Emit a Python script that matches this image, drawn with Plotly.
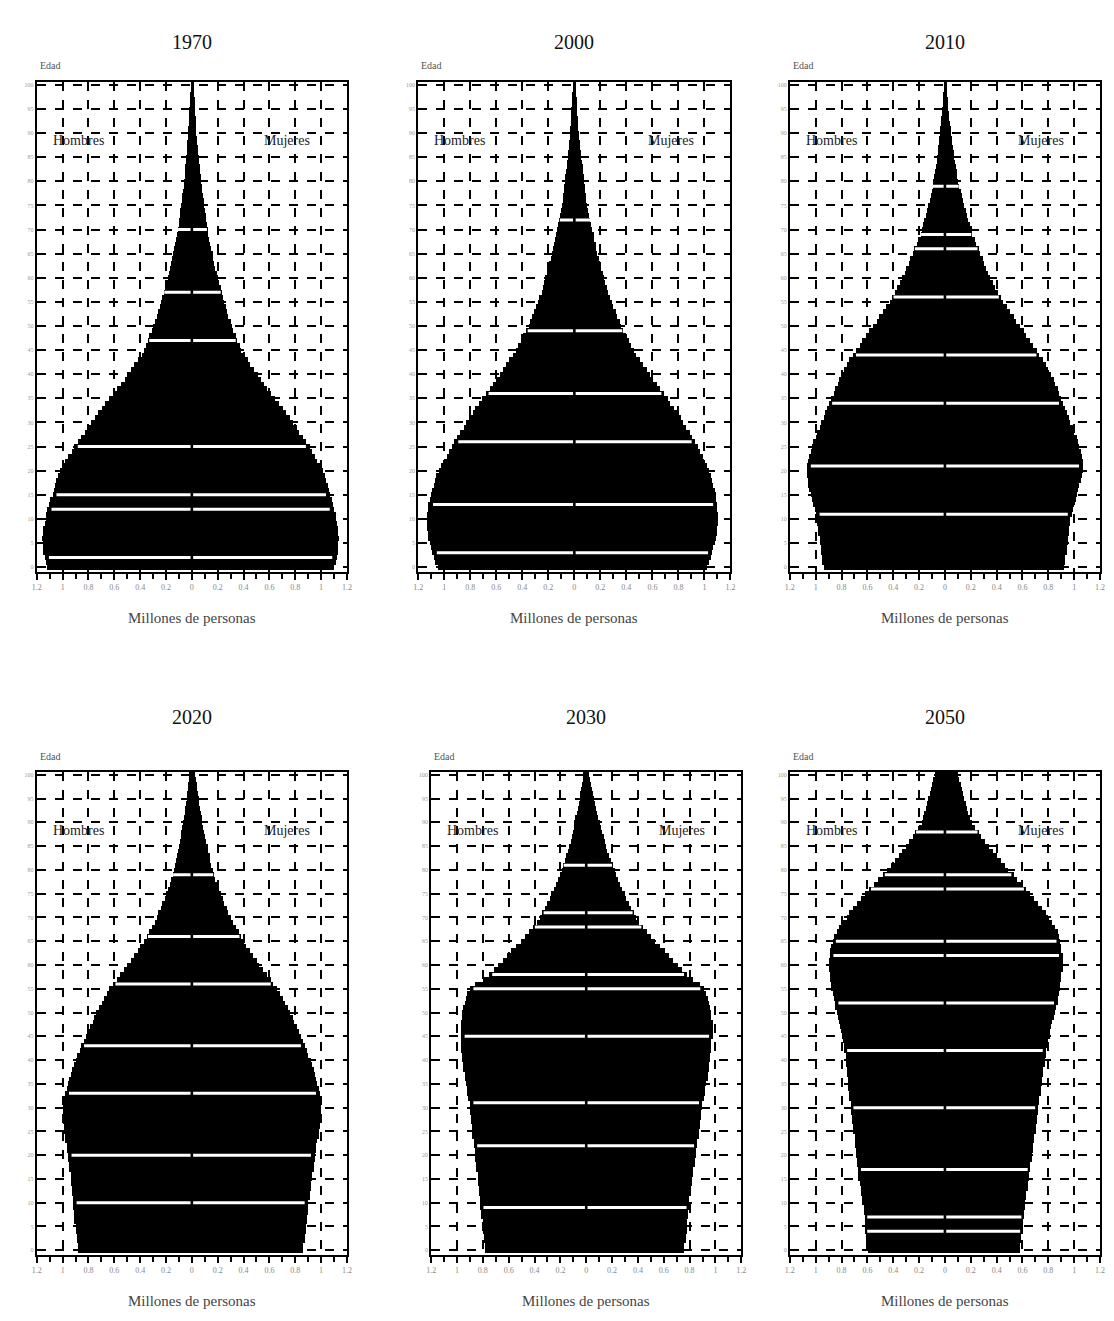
import plotly.graph_objects as go

W, H = 1114, 1321
OFF = 8  # body margin of the page
FW, FH = W - 2 * OFF, H - 2 * OFF

edades = list(range(0, 101))
anios = ["1970", "2000", "2010", "2020", "2030", "2050"]

hombres_1970 = [1.12, 1.13, 1.14, 1.15, 1.15, 1.15, 1.16, 1.15, 1.15, 1.14,
                1.13, 1.13, 1.12, 1.11, 1.10, 1.08, 1.07, 1.06, 1.05, 1.04,
                1.02, 1.00, 0.98, 0.96, 0.93, 0.91, 0.88, 0.86, 0.83, 0.81,
                0.78, 0.75, 0.73, 0.70, 0.67, 0.64, 0.61, 0.58, 0.55, 0.52,
                0.50, 0.47, 0.45, 0.42, 0.39, 0.37, 0.36, 0.34, 0.33, 0.31,
                0.30, 0.29, 0.27, 0.26, 0.25, 0.24, 0.23, 0.22, 0.21, 0.20,
                0.19, 0.18, 0.17, 0.165, 0.155, 0.15, 0.14, 0.13, 0.125, 0.115,
                0.11, 0.105, 0.10, 0.095, 0.09, 0.085, 0.08, 0.075, 0.07, 0.065,
                0.06, 0.057, 0.054, 0.051, 0.048, 0.045, 0.042, 0.039, 0.036, 0.033,
                0.03, 0.028, 0.026, 0.025, 0.023, 0.02, 0.018, 0.016, 0.014, 0.012,
                0.01]
mujeres_1970 = [1.10, 1.11, 1.12, 1.13, 1.13, 1.13, 1.14, 1.13, 1.13, 1.12,
                1.11, 1.11, 1.10, 1.09, 1.08, 1.07, 1.06, 1.05, 1.04, 1.03,
                1.01, 0.99, 0.97, 0.95, 0.93, 0.91, 0.88, 0.86, 0.83, 0.81,
                0.78, 0.76, 0.73, 0.70, 0.67, 0.64, 0.61, 0.58, 0.56, 0.53,
                0.51, 0.48, 0.45, 0.43, 0.40, 0.38, 0.37, 0.35, 0.34, 0.32,
                0.31, 0.30, 0.28, 0.27, 0.26, 0.25, 0.24, 0.23, 0.22, 0.21,
                0.20, 0.19, 0.18, 0.17, 0.165, 0.16, 0.15, 0.14, 0.13, 0.125,
                0.12, 0.115, 0.11, 0.105, 0.10, 0.095, 0.09, 0.085, 0.08, 0.075,
                0.07, 0.066, 0.062, 0.058, 0.054, 0.05, 0.047, 0.044, 0.04, 0.037,
                0.034, 0.031, 0.029, 0.027, 0.025, 0.023, 0.021, 0.019, 0.017, 0.015,
                0.012]

hombres_2000 = [1.05, 1.07, 1.08, 1.09, 1.10, 1.11, 1.12, 1.12, 1.13, 1.13,
                1.13, 1.13, 1.12, 1.12, 1.11, 1.10, 1.09, 1.08, 1.07, 1.06,
                1.04, 1.02, 1.00, 0.98, 0.96, 0.94, 0.92, 0.90, 0.88, 0.85,
                0.83, 0.81, 0.78, 0.76, 0.73, 0.71, 0.68, 0.65, 0.62, 0.60,
                0.57, 0.55, 0.52, 0.50, 0.47, 0.45, 0.43, 0.41, 0.39, 0.37,
                0.35, 0.34, 0.32, 0.31, 0.29, 0.28, 0.27, 0.25, 0.24, 0.23,
                0.22, 0.21, 0.20, 0.19, 0.18, 0.17, 0.16, 0.155, 0.145, 0.14,
                0.13, 0.12, 0.115, 0.105, 0.10, 0.09, 0.086, 0.082, 0.078, 0.074,
                0.07, 0.066, 0.062, 0.058, 0.054, 0.05, 0.046, 0.042, 0.038, 0.034,
                0.03, 0.028, 0.026, 0.024, 0.022, 0.02, 0.018, 0.016, 0.014, 0.012,
                0.01]
mujeres_2000 = [1.02, 1.04, 1.05, 1.06, 1.07, 1.08, 1.09, 1.10, 1.10, 1.11,
                1.11, 1.11, 1.10, 1.10, 1.09, 1.09, 1.08, 1.07, 1.06, 1.05,
                1.04, 1.02, 1.00, 0.99, 0.97, 0.95, 0.93, 0.91, 0.89, 0.86,
                0.84, 0.82, 0.79, 0.77, 0.74, 0.72, 0.69, 0.66, 0.64, 0.61,
                0.58, 0.56, 0.53, 0.51, 0.48, 0.46, 0.44, 0.42, 0.40, 0.38,
                0.36, 0.35, 0.33, 0.32, 0.30, 0.29, 0.28, 0.26, 0.25, 0.24,
                0.23, 0.22, 0.21, 0.20, 0.19, 0.18, 0.17, 0.165, 0.155, 0.15,
                0.14, 0.13, 0.125, 0.115, 0.11, 0.10, 0.095, 0.09, 0.086, 0.082,
                0.078, 0.074, 0.07, 0.065, 0.06, 0.056, 0.052, 0.048, 0.044, 0.04,
                0.036, 0.033, 0.03, 0.028, 0.026, 0.024, 0.021, 0.019, 0.017, 0.015,
                0.012]

hombres_2010 = [0.94, 0.95, 0.95, 0.96, 0.96, 0.97, 0.97, 0.98, 0.98, 0.99,
                0.99, 1.00, 1.01, 1.02, 1.03, 1.04, 1.05, 1.06, 1.06, 1.07,
                1.07, 1.07, 1.06, 1.05, 1.04, 1.03, 1.02, 1.00, 0.99, 0.97,
                0.96, 0.94, 0.93, 0.91, 0.90, 0.88, 0.86, 0.85, 0.83, 0.82,
                0.80, 0.78, 0.76, 0.74, 0.71, 0.69, 0.66, 0.64, 0.61, 0.59,
                0.56, 0.53, 0.51, 0.48, 0.46, 0.43, 0.41, 0.39, 0.37, 0.35,
                0.33, 0.31, 0.30, 0.28, 0.27, 0.25, 0.24, 0.22, 0.21, 0.19,
                0.18, 0.17, 0.16, 0.15, 0.14, 0.13, 0.12, 0.11, 0.105, 0.097,
                0.09, 0.084, 0.078, 0.072, 0.066, 0.06, 0.056, 0.052, 0.048, 0.044,
                0.04, 0.036, 0.032, 0.028, 0.024, 0.02, 0.018, 0.016, 0.014, 0.012,
                0.01]
mujeres_2010 = [0.92, 0.93, 0.93, 0.94, 0.94, 0.95, 0.95, 0.96, 0.96, 0.97,
                0.97, 0.98, 0.99, 1.00, 1.01, 1.02, 1.03, 1.04, 1.05, 1.06,
                1.07, 1.07, 1.07, 1.06, 1.05, 1.04, 1.03, 1.02, 1.00, 0.99,
                0.97, 0.96, 0.94, 0.93, 0.91, 0.90, 0.88, 0.87, 0.85, 0.84,
                0.82, 0.80, 0.78, 0.76, 0.73, 0.71, 0.68, 0.66, 0.63, 0.61,
                0.58, 0.55, 0.53, 0.50, 0.48, 0.45, 0.43, 0.41, 0.39, 0.37,
                0.35, 0.33, 0.32, 0.30, 0.29, 0.27, 0.26, 0.24, 0.23, 0.21,
                0.20, 0.19, 0.18, 0.17, 0.16, 0.15, 0.14, 0.13, 0.12, 0.11,
                0.10, 0.095, 0.09, 0.084, 0.078, 0.072, 0.066, 0.06, 0.056, 0.052,
                0.048, 0.043, 0.038, 0.033, 0.028, 0.024, 0.021, 0.019, 0.016, 0.014,
                0.012]

hombres_2020 = [0.88, 0.88, 0.89, 0.89, 0.90, 0.90, 0.91, 0.91, 0.91, 0.92,
                0.92, 0.92, 0.93, 0.93, 0.94, 0.94, 0.94, 0.95, 0.95, 0.96,
                0.96, 0.97, 0.97, 0.98, 0.98, 0.99, 0.99, 1.00, 1.00, 1.00,
                1.00, 0.99, 0.99, 0.98, 0.97, 0.96, 0.95, 0.94, 0.93, 0.91,
                0.90, 0.89, 0.87, 0.86, 0.84, 0.82, 0.81, 0.79, 0.77, 0.76,
                0.74, 0.72, 0.70, 0.68, 0.66, 0.64, 0.61, 0.58, 0.56, 0.53,
                0.50, 0.47, 0.45, 0.42, 0.40, 0.37, 0.35, 0.33, 0.31, 0.29,
                0.27, 0.26, 0.24, 0.23, 0.21, 0.20, 0.19, 0.17, 0.16, 0.15,
                0.14, 0.13, 0.125, 0.115, 0.11, 0.10, 0.095, 0.088, 0.082, 0.076,
                0.07, 0.064, 0.058, 0.052, 0.046, 0.04, 0.036, 0.032, 0.028, 0.024,
                0.02]
mujeres_2020 = [0.86, 0.86, 0.87, 0.87, 0.88, 0.88, 0.89, 0.89, 0.90, 0.90,
                0.90, 0.91, 0.91, 0.92, 0.92, 0.93, 0.93, 0.94, 0.94, 0.95,
                0.95, 0.96, 0.96, 0.97, 0.98, 0.98, 0.99, 0.99, 1.00, 1.00,
                1.00, 1.00, 0.99, 0.99, 0.98, 0.97, 0.96, 0.95, 0.94, 0.93,
                0.92, 0.90, 0.89, 0.87, 0.86, 0.84, 0.83, 0.81, 0.79, 0.78,
                0.76, 0.74, 0.72, 0.70, 0.68, 0.66, 0.63, 0.61, 0.58, 0.55,
                0.52, 0.50, 0.47, 0.45, 0.42, 0.40, 0.38, 0.36, 0.34, 0.32,
                0.30, 0.28, 0.27, 0.25, 0.24, 0.22, 0.21, 0.20, 0.18, 0.17,
                0.16, 0.15, 0.14, 0.135, 0.125, 0.12, 0.11, 0.10, 0.095, 0.088,
                0.08, 0.074, 0.068, 0.062, 0.056, 0.05, 0.045, 0.04, 0.035, 0.03,
                0.025]

hombres_2030 = [0.78, 0.78, 0.79, 0.79, 0.80, 0.80, 0.80, 0.81, 0.81, 0.82,
                0.82, 0.82, 0.83, 0.83, 0.84, 0.84, 0.84, 0.85, 0.85, 0.86,
                0.86, 0.86, 0.87, 0.87, 0.88, 0.88, 0.88, 0.89, 0.89, 0.90,
                0.90, 0.90, 0.91, 0.92, 0.92, 0.93, 0.94, 0.94, 0.95, 0.95,
                0.96, 0.96, 0.97, 0.97, 0.97, 0.97, 0.97, 0.97, 0.97, 0.96,
                0.96, 0.95, 0.94, 0.93, 0.92, 0.90, 0.86, 0.80, 0.75, 0.71,
                0.68, 0.64, 0.61, 0.58, 0.54, 0.50, 0.47, 0.44, 0.41, 0.38,
                0.36, 0.34, 0.32, 0.30, 0.28, 0.27, 0.25, 0.23, 0.22, 0.20,
                0.19, 0.18, 0.165, 0.155, 0.14, 0.13, 0.12, 0.11, 0.10, 0.095,
                0.09, 0.082, 0.074, 0.066, 0.058, 0.05, 0.044, 0.038, 0.032, 0.026,
                0.02]
mujeres_2030 = [0.76, 0.76, 0.77, 0.77, 0.78, 0.78, 0.78, 0.79, 0.79, 0.80,
                0.80, 0.80, 0.81, 0.81, 0.82, 0.82, 0.83, 0.83, 0.84, 0.84,
                0.85, 0.85, 0.86, 0.86, 0.87, 0.87, 0.88, 0.88, 0.89, 0.89,
                0.90, 0.90, 0.91, 0.92, 0.92, 0.93, 0.94, 0.94, 0.95, 0.95,
                0.96, 0.96, 0.97, 0.97, 0.97, 0.98, 0.98, 0.98, 0.98, 0.97,
                0.97, 0.96, 0.95, 0.94, 0.93, 0.91, 0.88, 0.83, 0.78, 0.74,
                0.71, 0.67, 0.64, 0.61, 0.57, 0.53, 0.50, 0.47, 0.44, 0.41,
                0.39, 0.37, 0.35, 0.33, 0.31, 0.30, 0.28, 0.26, 0.25, 0.23,
                0.22, 0.205, 0.19, 0.18, 0.165, 0.155, 0.145, 0.135, 0.125, 0.115,
                0.105, 0.096, 0.087, 0.078, 0.07, 0.062, 0.054, 0.046, 0.038, 0.032,
                0.026]

hombres_2050 = [0.60, 0.60, 0.61, 0.61, 0.62, 0.62, 0.62, 0.62, 0.63, 0.63,
                0.64, 0.64, 0.65, 0.65, 0.66, 0.67, 0.67, 0.67, 0.68, 0.68,
                0.69, 0.69, 0.70, 0.70, 0.70, 0.71, 0.71, 0.72, 0.72, 0.73,
                0.73, 0.73, 0.74, 0.74, 0.75, 0.75, 0.75, 0.76, 0.76, 0.77,
                0.77, 0.77, 0.78, 0.78, 0.79, 0.80, 0.80, 0.81, 0.82, 0.83,
                0.84, 0.85, 0.85, 0.86, 0.87, 0.88, 0.88, 0.89, 0.89, 0.90,
                0.90, 0.90, 0.89, 0.89, 0.88, 0.87, 0.86, 0.84, 0.82, 0.79,
                0.76, 0.74, 0.71, 0.68, 0.65, 0.62, 0.59, 0.55, 0.52, 0.48,
                0.45, 0.42, 0.39, 0.36, 0.33, 0.30, 0.28, 0.25, 0.23, 0.20,
                0.18, 0.17, 0.16, 0.15, 0.14, 0.13, 0.12, 0.11, 0.10, 0.09,
                0.08]
mujeres_2050 = [0.58, 0.58, 0.59, 0.59, 0.60, 0.60, 0.60, 0.61, 0.61, 0.62,
                0.62, 0.63, 0.63, 0.64, 0.64, 0.65, 0.65, 0.66, 0.66, 0.67,
                0.67, 0.68, 0.68, 0.69, 0.69, 0.70, 0.70, 0.71, 0.71, 0.72,
                0.72, 0.73, 0.73, 0.74, 0.74, 0.75, 0.75, 0.76, 0.76, 0.77,
                0.77, 0.78, 0.78, 0.79, 0.80, 0.81, 0.81, 0.82, 0.83, 0.84,
                0.85, 0.86, 0.87, 0.87, 0.88, 0.89, 0.89, 0.90, 0.90, 0.91,
                0.91, 0.91, 0.91, 0.90, 0.90, 0.89, 0.88, 0.87, 0.85, 0.83,
                0.80, 0.78, 0.75, 0.72, 0.69, 0.66, 0.63, 0.60, 0.56, 0.53,
                0.49, 0.46, 0.43, 0.40, 0.37, 0.34, 0.31, 0.28, 0.26, 0.23,
                0.21, 0.19, 0.18, 0.17, 0.16, 0.15, 0.14, 0.13, 0.12, 0.11,
                0.10]

# ages at which the scanned original shows thin white lines across the bars
lineas_1970 = [2, 12, 15, 25, 47, 57, 70]
lineas_2000 = [3, 13, 26, 36, 49, 72]
lineas_2010 = [11, 21, 34, 44, 56, 66, 69, 79]
lineas_2020 = [10, 20, 33, 43, 56, 66, 79]
lineas_2030 = [9, 22, 31, 45, 55, 58, 68, 71, 81]
lineas_2050 = [4, 7, 17, 30, 42, 52, 62, 65, 76, 79, 88]

hombres = [hombres_1970, hombres_2000, hombres_2010, hombres_2020, hombres_2030, hombres_2050]
mujeres = [mujeres_1970, mujeres_2000, mujeres_2010, mujeres_2020, mujeres_2030, mujeres_2050]
lineas = [lineas_1970, lineas_2000, lineas_2010, lineas_2020, lineas_2030, lineas_2050]

x_tickvals = [-1.2, -1.0, -0.8, -0.6, -0.4, -0.2, 0, 0.2, 0.4, 0.6, 0.8, 1.0, 1.2]
x_ticktext = ["1.2", "1", "0.8", "0.6", "0.4", "0.2", "0", "0.2", "0.4", "0.6", "0.8", "1", "1.2"]
y_tickvals = list(range(0, 101, 5))

# panel plot areas in page pixels: (left, right, top, bottom)
paneles = [
    (32, 345, 82, 572),
    (417, 732, 82, 572),
    (792, 1105, 82, 572),
    (32, 345, 772, 1255),
    (430, 743, 772, 1255),
    (792, 1105, 772, 1255),
]


def px(xp):
    return (xp - OFF) / FW


def py(yp):
    return 1 - (yp - OFF) / FH


FONT = "Liberation Serif"
fig = go.Figure()

annotations = []
for i, (l, r, t, b) in enumerate(paneles):
    n = "" if i == 0 else str(i + 1)
    xa, ya = "x" + n, "y" + n
    fig.add_trace(go.Bar(y=edades, x=[-v for v in hombres[i]], orientation="h",
                         marker=dict(color="black", line=dict(width=0)),
                         width=1.0, xaxis=xa, yaxis=ya, showlegend=False,
                         name="Hombres"))
    fig.add_trace(go.Bar(y=edades, x=mujeres[i], orientation="h",
                         marker=dict(color="black", line=dict(width=0)),
                         width=1.0, xaxis=xa, yaxis=ya, showlegend=False,
                         name="Mujeres"))
    lx, ly = [], []
    for a in lineas[i]:
        lx += [-hombres[i][a] * 0.97, -0.01, None, 0.01, mujeres[i][a] * 0.97, None]
        ly += [a, a, None, a, a, None]
    fig.add_trace(go.Scatter(x=lx, y=ly, mode="lines", line=dict(color="white", width=3),
                             xaxis=xa, yaxis=ya, showlegend=False, hoverinfo="skip"))
    axx = dict(domain=[px(l), px(r)], range=[-1.2, 1.2], anchor=ya,
               tickvals=x_tickvals, ticktext=x_ticktext,
               tickfont=dict(family=FONT, size=8, color="#888"),
               ticks="outside", ticklen=6, tickcolor="black", tickwidth=2,
               minor=dict(dtick=0.1, ticks="outside", ticklen=5, tickcolor="black", tickwidth=1.5,
                          showgrid=False),
               showgrid=True, gridcolor="black", gridwidth=2, griddash="dash",
               showline=True, linecolor="black", linewidth=2, mirror=True,
               zeroline=False, fixedrange=True)
    axy = dict(domain=[py(b), py(t)], range=[-1, 100.6], anchor=xa,
               tickvals=y_tickvals, ticktext=[str(v) for v in y_tickvals],
               tickfont=dict(family=FONT, size=6, color="#999"),
               ticks="", showgrid=True, gridcolor="black", gridwidth=2, griddash="dash",
               showline=True, linecolor="black", linewidth=2, mirror=True,
               zeroline=False, fixedrange=True)
    fig.update_layout(**{("xaxis" + n): axx, ("yaxis" + n): axy})

    cx = (l + r) / 2
    title_y = 42 if i < 3 else 717
    annotations.append(dict(text=anios[i], x=px(cx), y=py(title_y), xref="paper", yref="paper",
                            showarrow=False, font=dict(family=FONT, size=20, color="#111"),
                            xanchor="center", yanchor="middle"))
    annotations.append(dict(text="Edad", x=px(l + 1), y=py(t - 16), xref="paper", yref="paper",
                            showarrow=False, font=dict(family=FONT, size=10, color="#555"),
                            xanchor="left", yanchor="middle"))
    annotations.append(dict(text="Hombres", x=px(l + 42), y=py(t + 58), xref="paper", yref="paper",
                            showarrow=False, font=dict(family=FONT, size=14, color="#222"),
                            xanchor="center", yanchor="middle"))
    annotations.append(dict(text="Mujeres", x=px(r - 60), y=py(t + 58), xref="paper", yref="paper",
                            showarrow=False, font=dict(family=FONT, size=14, color="#222"),
                            xanchor="center", yanchor="middle"))
    annotations.append(dict(text="Millones de personas", x=px(cx), y=py(b + 46), xref="paper", yref="paper",
                            showarrow=False, font=dict(family=FONT, size=15, color="#444"),
                            xanchor="center", yanchor="middle"))

fig.update_layout(width=FW, height=FH, margin=dict(l=0, r=0, t=0, b=0),
                  paper_bgcolor="white", plot_bgcolor="white",
                  barmode="overlay", bargap=0, annotations=annotations,
                  font=dict(family=FONT))

fig.write_html("out.html")
